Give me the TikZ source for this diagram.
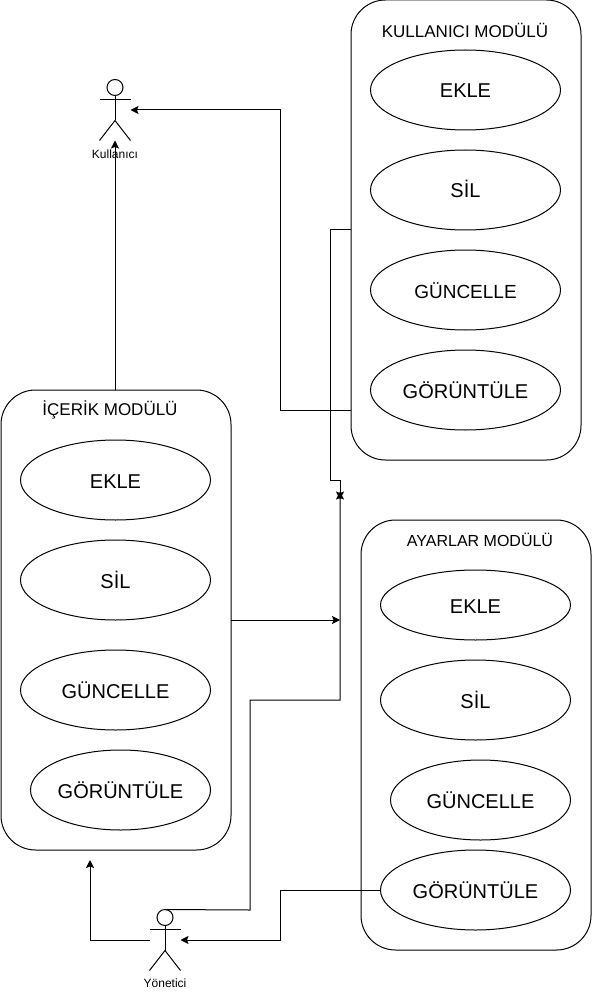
\documentclass[tikz,border=0pt]{standalone}
\usepackage{fontspec}
\setmainfont{Liberation Sans}
\usetikzlibrary{arrows.meta,shapes.geometric}

\tikzset{
  modulebox/.style={draw, rounded corners=34.5pt, minimum width=230pt, minimum height=#1, inner sep=0pt},
  modulename/.style={font=\fontsize{#1}{18}\selectfont, inner sep=0pt},
  modulename/.default=17,
  usecase/.style={draw, ellipse, minimum width=190pt, minimum height=#1, inner sep=0pt, text height=16pt, text depth=0pt, font=\fontsize{20}{22}\selectfont},
  usecase/.default=80pt,
  actor/.style={minimum width=30pt, minimum height=60pt, inner sep=0pt},
  actorname/.style={font=\fontsize{12}{14}\selectfont, inner sep=0pt},
  link/.style={-{Stealth[length=8pt,width=8pt,inset=1.5pt]}},
}

% stick figure inside an actor node
\newcommand{\stickman}[1]{
  \draw ([yshift=-8pt]#1.north) circle (8pt);
  \draw ([yshift=-16pt]#1.north) -- ([yshift=20pt]#1.south);
  \draw ([yshift=-20pt]#1.north west) -- ([yshift=-20pt]#1.north east);
  \draw (#1.south west) -- ([yshift=20pt]#1.south) -- (#1.south east);
}

\begin{document}
\begin{tikzpicture}[x=1pt, y=-1pt, line width=1pt]
      \useasboundingbox (0,0) rectangle (591,992);

      % Kullanici modulu
      \node[modulebox=460pt] (kmodul) at (466,230) {};
      \node[modulename] (kbaslik) at (465,30) {KULLANICI MODÜLÜ};
      \node[usecase] (kekle) at (465.5,90) {EKLE};
      \node[usecase] (ksil) at (465.5,190) {SİL};
      \node[usecase, font=\fontsize{19}{20}\selectfont] (kguncelle) at (465.5,290) {GÜNCELLE};
      \node[usecase] (kgoruntule) at (465.5,390) {GÖRÜNTÜLE};

      % Icerik modulu
      \node[modulebox=460pt] (imodul) at (116,620) {};
      \node[modulename] (ibaslik) at (110,410) {İÇERİK MODÜLÜ};
      \node[usecase] (iekle) at (115.5,480) {EKLE};
      \node[usecase] (isil) at (115.5,580) {SİL};
      \node[usecase] (iguncelle) at (115.5,690) {GÜNCELLE};
      \node[usecase, minimum width=180pt] (igoruntule) at (120.5,790) {GÖRÜNTÜLE};

      % Ayarlar modulu
      \node[modulebox=430pt] (amodul) at (476,735) {};
      \node[modulename=16] (abaslik) at (480,540) {AYARLAR MODÜLÜ};
      \node[usecase=70pt] (aekle) at (475.5,605) {EKLE};
      \node[usecase] (asil) at (475.5,700) {SİL};
      \node[usecase, minimum width=180pt] (aguncelle) at (480.5,800) {GÜNCELLE};
      \node[usecase] (agoruntule) at (475.5,890) {GÖRÜNTÜLE};

      % Aktorler
      \node[actor] (kullanici) at (115,110) {};
      \stickman{kullanici}
      \node[actorname] (kullaniciad) at (115,154) {Kullanıcı};
      \node[actor] (yonetici) at (165,940) {};
      \stickman{yonetici}
      \node[actorname] (yoneticiad) at (165,983) {Yönetici};

      % Baglantilar
      \coordinate (kalt) at (351,410);
      \coordinate (kust) at (351,230);
      \coordinate (kesisme) at (340,499.5);
      \coordinate (kesismeust) at (340,491.5);
      \coordinate (iorta) at (231,620);
      \coordinate (igiris) at (340,620);
      \coordinate (idonus) at (90,860);

      \draw[link] (kullanici.south |- imodul.north) -- (kullanici.south);
      \draw[link] (kalt) -- (280,410) -- (280,110) -- (kullanici.east);
      \draw[link] (kust) -- (330,230) -- (330,480) -- (340,480) -- (kesisme);
      \draw[link] (yonetici.north) -- (250,910) -- (250,700) -- (340,700) -- (kesismeust);
      \draw[link] (iorta) -- (igiris);
      \draw[link] (agoruntule.west) -- (280,890) -- (280,940) -- (yonetici.east);
      \draw[link] (yonetici.west) -- (90,940) -- (idonus);
    \end{tikzpicture}
\end{document}
